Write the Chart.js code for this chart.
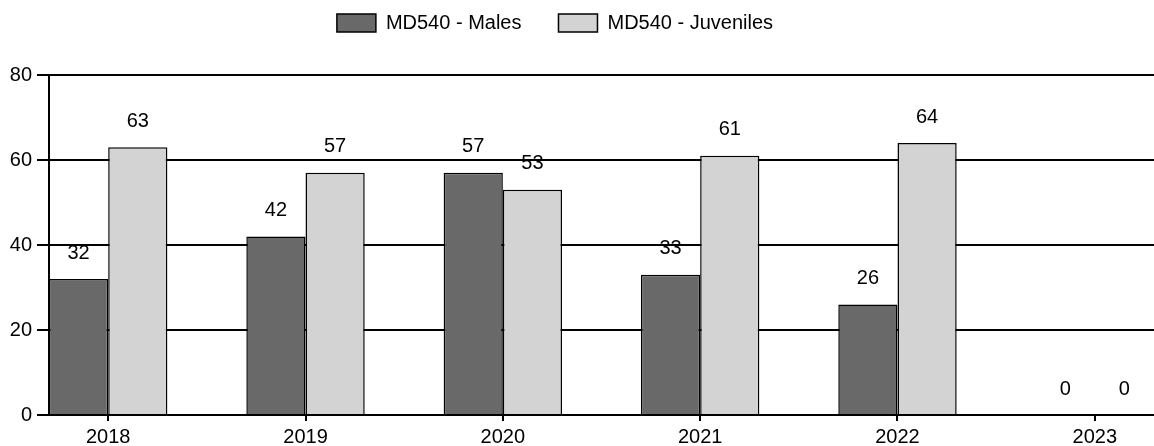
<!DOCTYPE html>
<html>
<head>
<meta charset="utf-8">
<script src="https://cdn.jsdelivr.net/npm/chart.js@4.4.0/dist/chart.umd.min.js"></script>
<style>
  html, body { margin: 0; padding: 0; background: #fff; }
  #wrap { width: 1154px; height: 446px; }
</style>
</head>
<body>
<div id="wrap"><canvas id="myChart1" width="1154" height="446"></canvas></div>
<script>
var years = ["2018", "2019", "2020", "2021", "2022", "2023"];
var males = [32, 42, 57, 33, 26, 0];
var juveniles = [63, 57, 53, 61, 64, 0];
var yTicks = [0, 20, 40, 60, 80];

// linear x so the plot can start right at the first bar
function toPoints(vals) {
  return vals.map(function (v, i) { return { x: i, y: v }; });
}

var valueLabels = {
  id: 'valueLabels',
  afterDatasetsDraw: function (chart) {
    var ctx = chart.ctx;
    ctx.save();
    ctx.font = '20px "Liberation Sans", Arial, sans-serif';
    ctx.fillStyle = '#000';
    ctx.textAlign = 'center';
    ctx.textBaseline = 'middle';
    chart.data.datasets.forEach(function (ds, di) {
      chart.getDatasetMeta(di).data.forEach(function (bar, i) {
        ctx.fillText(String(ds.data[i].y), bar.x, bar.y - 26);
      });
    });
    ctx.restore();
  }
};

var legendPlace = {
  id: 'legendPlace',
  afterLayout: function (chart) {
    chart.legend.top = 13 - 37;
    chart.legend.left -= 22;
    chart.legend.right -= 22;
  }
};

Chart.defaults.font.family = '"Liberation Sans", Arial, sans-serif';
Chart.defaults.color = '#000';

var ctx = document.getElementById("myChart1");
var myChart = new Chart(ctx, {
  type: 'bar',
  data: {
    datasets: [
      {
        label: "MD540 - Males",
        data: toPoints(males),
        backgroundColor: "#696969",
        borderColor: "#000",
        borderWidth: 1.5
      },
      {
        label: "MD540 - Juveniles",
        data: toPoints(juveniles),
        backgroundColor: "#d3d3d3",
        borderColor: "#000",
        borderWidth: 1.5
      }
    ]
  },
  options: {
    responsive: false,
    animation: false,
    devicePixelRatio: 1,
    layout: { padding: { top: 8, right: 0, bottom: 0, left: 0 } },
    datasets: { bar: { categoryPercentage: 0.6, barPercentage: 1.0 } },
    plugins: {
      tooltip: { enabled: false },
      legend: {
        position: 'top',
        labels: {
          boxWidth: 39,
          boxHeight: 18,
          padding: 37,
          font: { size: 20 },
          color: '#000'
        }
      }
    },
    scales: {
      x: {
        type: 'linear',
        min: -0.3,
        max: 5.3,
        offset: false,
        afterFit: function (s) { s.height = 31; },
        ticks: {
          stepSize: 1,
          includeBounds: false,
          autoSkip: false,
          maxRotation: 0,
          padding: 4,
          font: { size: 20 },
          color: '#000',
          callback: function (v) { return years[v] !== undefined ? years[v] : ''; }
        },
        grid: { offset: false, drawOnChartArea: false, drawTicks: true, tickLength: 6, color: '#000', lineWidth: 2 },
        border: { display: true, color: '#000', width: 2 }
      },
      y: {
        min: yTicks[0],
        max: yTicks[yTicks.length - 1],
        afterFit: function (s) { s.width = 49; },
        ticks: { stepSize: 20, padding: 5, font: { size: 20 }, color: '#000' },
        grid: { color: '#000', lineWidth: 2, tickLength: 12 },
        border: { display: true, color: '#000', width: 2 }
      }
    }
  },
  plugins: [valueLabels, legendPlace]
});
</script>
</body>
</html>
